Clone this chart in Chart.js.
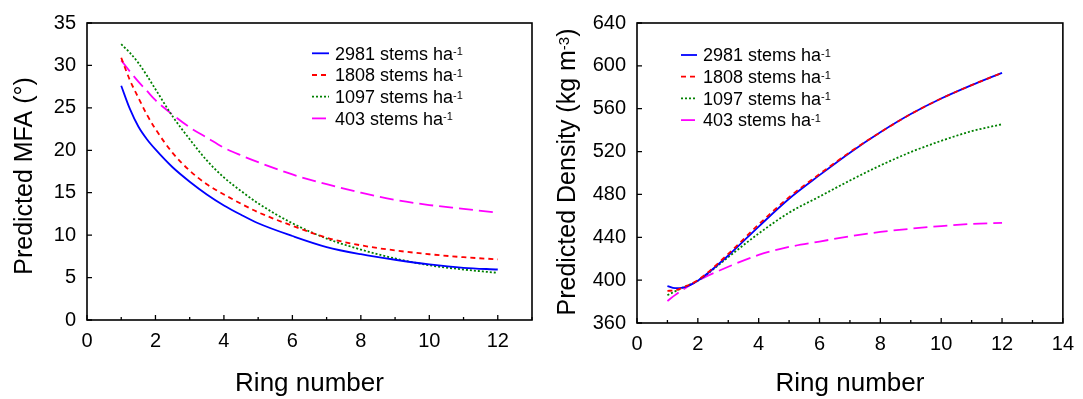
<!DOCTYPE html>
<html>
<head>
<meta charset="utf-8">
<script src="https://cdn.jsdelivr.net/npm/chart.js@4.4.0/dist/chart.umd.min.js"></script>
<style>
  html,body{margin:0;padding:0;background:#fff;}
  #wrap{position:relative;width:1083px;height:399px;}
  canvas{position:absolute;top:0;}
  #mfa{left:0;}
  #dens{left:541px;}
</style>
</head>
<body>
<div id="wrap">
  <canvas id="mfa" width="541" height="399"></canvas>
  <canvas id="dens" width="542" height="399"></canvas>
</div>
<script>
// Stand densities (stems per ha)
const stands = ["2981", "1808", "1097", "403"];

// Microfibril angle curves, sampled along ring number
const ringsMFA = [1, 1.25, 1.5, 1.75, 2, 2.5, 3, 3.5, 4, 4.5, 5, 6, 7, 8, 9, 10, 11, 12];
const mfa2981 = [27.6, 24.9, 22.8, 21.3, 20.1, 18.0, 16.3, 14.8, 13.5, 12.4, 11.4, 9.9, 8.6, 7.75, 7.1, 6.55, 6.15, 5.95];
const mfa1808 = [30.9, 28.3, 26.2, 24.2, 22.5, 19.7, 17.6, 16.0, 14.8, 13.7, 12.7, 11.1, 9.7, 8.8, 8.2, 7.75, 7.4, 7.15];
const mfa1097 = [32.5, 31.5, 30.3, 28.8, 27.2, 24.0, 21.3, 18.8, 16.8, 15.2, 13.75, 11.4, 9.6, 8.3, 7.25, 6.45, 5.95, 5.55];
const mfa403  = [30.6, 29.3, 28.1, 27.0, 25.9, 24.2, 22.7, 21.5, 20.3, 19.4, 18.6, 17.15, 16.0, 15.0, 14.15, 13.55, 13.1, 12.65];

// Wood density curves
const ringsDen = [1, 1.25, 1.5, 2, 3, 4, 5, 6, 7, 8, 9, 10, 11, 12];
const den2981 = [394.5, 392.5, 393, 399.5, 423, 450, 476, 498, 519, 538, 555, 569.5, 582, 593.5];
const den1808 = [390, 390.5, 393, 400, 424.5, 452, 477.5, 499, 519.5, 538, 555, 569.5, 582, 593.5];
const den1097 = [386, 389.5, 393, 399.5, 421.5, 443.5, 463, 478, 493, 507, 519.5, 530, 539, 545.5];
const den403  = [380.5, 386, 391, 399.5, 412.5, 423.5, 431, 436, 441, 445, 448, 450.5, 452.5, 453.5];

// Axis ranges / ticks
const mfaY = { min: 0, max: 35, step: 5 };
const denY = { min: 360, max: 640, step: 40 };
const mfaXMax = 13, denXMax = 14;

const FONT = "'Liberation Sans', Arial, sans-serif";
const styles = [
  { color: "#0000ff", dash: [], order: 1 },
  { color: "#ff0000", dash: [5, 4], order: 0 },
  { color: "#008000", dash: [2, 2], order: 2 },
  { color: "#ff00ff", dash: [14, 6], order: 3 }
];

const pts = (xs, ys) => xs.map((x, i) => ({ x, y: ys[i] }));

// text with superscript pieces: parts = [[text, isSup], ...]
function richText(ctx, parts, x, y, size, center){
  const supSize = Math.round(size * 0.6);
  const w = parts.map(([t, sup]) => { ctx.font = (sup ? supSize : size) + "px " + FONT; return ctx.measureText(t).width; });
  let cx = center ? x - w.reduce((a, b) => a + b, 0) / 2 : x;
  parts.forEach(([t, sup], i) => {
    ctx.font = (sup ? supSize : size) + "px " + FONT;
    ctx.fillText(t, cx, sup ? y - size * 0.25 : y);
    cx += w[i];
  });
}

// box frame, inward tick marks, legend and y title
const decor = {
  id: "decor",
  afterDatasetsDraw(chart, args, o){
    const ctx = chart.ctx, a = chart.chartArea, sx = chart.scales.x, sy = chart.scales.y;
    ctx.save();
    ctx.strokeStyle = "#000"; ctx.lineWidth = 1.6; ctx.setLineDash([]);
    ctx.strokeRect(a.left, a.top, a.right - a.left, a.bottom - a.top);
    ctx.lineWidth = 1.3;
    ctx.beginPath();
    sx.ticks.forEach(t => {
      const px = sx.getPixelForValue(t.value), len = t.value % 2 === 0 ? 5 : 3;
      ctx.moveTo(px, a.bottom); ctx.lineTo(px, a.bottom - len);
    });
    sy.ticks.forEach(t => {
      const py = sy.getPixelForValue(t.value);
      ctx.moveTo(a.left, py); ctx.lineTo(a.left + 5, py);
    });
    ctx.stroke();

    // legend
    ctx.fillStyle = "#000"; ctx.textBaseline = "alphabetic"; ctx.textAlign = "left";
    chart.data.datasets.forEach((ds, i) => {
      const cy = o.legY + i * o.legGap;
      ctx.strokeStyle = ds.borderColor; ctx.lineWidth = ds.borderWidth; ctx.setLineDash(ds.borderDash);
      ctx.beginPath(); ctx.moveTo(o.legX, cy); ctx.lineTo(o.legX + o.legLen, cy); ctx.stroke();
      ctx.setLineDash([]);
      richText(ctx, [[ds.label + " stems ha", false], ["-1", true]], o.legX + o.legLen + 6, cy + 6.3, 18, false);
    });

    // rotated y title
    ctx.translate(o.titleX, o.titleY); ctx.rotate(-Math.PI / 2);
    richText(ctx, o.title, 0, 9, 25, true);
    ctx.restore();
  }
};

function makeChart(id, rings, series, yr, xMax, lay, deco){
  return new Chart(document.getElementById(id), {
    type: "line",
    data: {
      datasets: series.map((s, i) => ({
        label: stands[i], data: pts(rings, s), order: styles[i].order,
        borderColor: styles[i].color, borderDash: styles[i].dash, borderWidth: 1.8,
        pointRadius: 0, fill: false, cubicInterpolationMode: "monotone"
      }))
    },
    options: {
      responsive: false, animation: false, events: [],
      layout: { padding: lay.pad },
      plugins: { legend: { display: false }, tooltip: { enabled: false }, decor: deco },
      scales: {
        x: {
          type: "linear", min: 0, max: xMax,
          grid: { display: false, drawTicks: false }, border: { display: false },
          ticks: { stepSize: 1, autoSkip: false, maxRotation: 0, padding: 9, color: "#000",
                   font: { family: FONT, size: 20 }, callback: v => v % 2 === 0 ? String(v) : "" },
          title: { display: true, text: "Ring number", color: "#000", font: { family: FONT, size: 26 }, padding: 0 },
          afterFit: s => { s.height = lay.xh; }
        },
        y: {
          min: yr.min, max: yr.max,
          grid: { display: false, drawTicks: false }, border: { display: false },
          ticks: { stepSize: yr.step, padding: 11, color: "#000", font: { family: FONT, size: 20 } },
          afterFit: s => { s.width = lay.yw; }
        }
      }
    },
    plugins: [decor]
  });
}

makeChart("mfa", ringsMFA, [mfa2981, mfa1808, mfa1097, mfa403], mfaY, mfaXMax,
  { pad: { left: 7, right: 7, top: 21, bottom: 0 }, xh: 79, yw: 80 },
  { legX: 312, legY: 53.3, legGap: 21.7, legLen: 17, titleX: 23, titleY: 176,
    title: [["Predicted MFA (°)", false]] });

makeChart("dens", ringsDen, [den2981, den1808, den1097, den403], denY, denXMax,
  { pad: { left: 9, right: 19, top: 22, bottom: 0 }, xh: 76, yw: 87 },
  { legX: 140, legY: 55, legGap: 21.7, legLen: 16, titleX: 25, titleY: 172,
    title: [["Predicted Density (kg m", false], ["-3", true], [")", false]] });
</script>
</body>
</html>
